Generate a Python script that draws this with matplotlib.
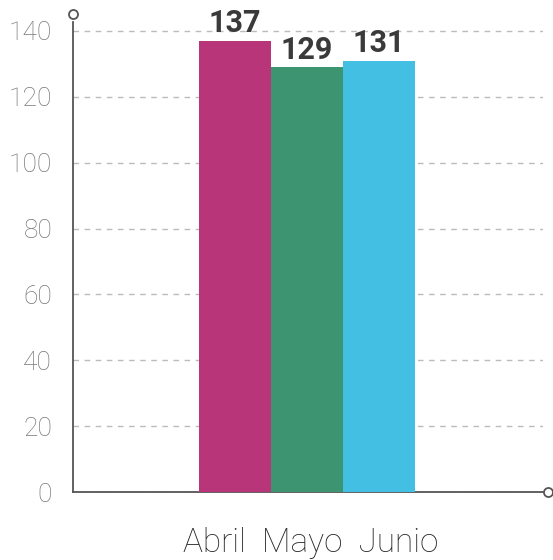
import matplotlib.pyplot as plt

# Data
months = ["Abril", "Mayo", "Junio"]
values = [137, 129, 131]
colors = ["#B9357A", "#3D9470", "#44BFE4"]
y_ticks = [0, 20, 40, 60, 80, 100, 120, 140]

plt.rcParams['font.family'] = ['Roboto', 'DejaVu Sans']

fig = plt.figure(figsize=(5.53, 5.60), dpi=100)
ax = fig.add_axes([73 / 553, 68 / 560, 470 / 553, 470 / 560])

pos = list(range(len(months)))
ax.bar(pos, values, width=1.0, color=colors, zorder=3)

# value labels above bars
for x, v in zip(pos, values):
    ax.text(x, v + 0.7, str(v), ha="center", va="bottom", fontsize=22,
            fontweight="bold", color="#3a3a3a", zorder=4)

ax.set_xlim(-2.25, 4.28)
ax.set_ylim(0, 142.7)
ax.set_yticks(y_ticks)
ax.set_yticklabels([str(t) for t in y_ticks], fontsize=19, fontweight="light", color="#777777")
ax.tick_params(axis="y", length=0, pad=15)
ax.set_xticks([])

# month names as one centred line under the bars
ax.annotate("  ".join(months), xy=(pos[1], 0), xycoords=("data", "axes fraction"),
            xytext=(3, -25), textcoords="offset points", ha="center", va="top",
            fontsize=24, fontweight="light", color="#2a2a2a")

ax.yaxis.grid(True, linestyle=(0, (4, 4)), color="#bbbbbb", linewidth=1, zorder=0)
for s in ["top", "right"]:
    ax.spines[s].set_visible(False)
for s in ["left", "bottom"]:
    ax.spines[s].set_color("#555555")
    ax.spines[s].set_linewidth(1.3)

# small circles at the ends of the axes
ax.plot([0], [1.017], marker="o", markersize=6.5, markerfacecolor="white",
        markeredgecolor="#555555", markeredgewidth=1.3, transform=ax.transAxes, clip_on=False)
ax.plot([1.011], [0], marker="o", markersize=6.5, markerfacecolor="white",
        markeredgecolor="#555555", markeredgewidth=1.3, transform=ax.transAxes, clip_on=False)

fig.savefig("out.png", dpi=100)
